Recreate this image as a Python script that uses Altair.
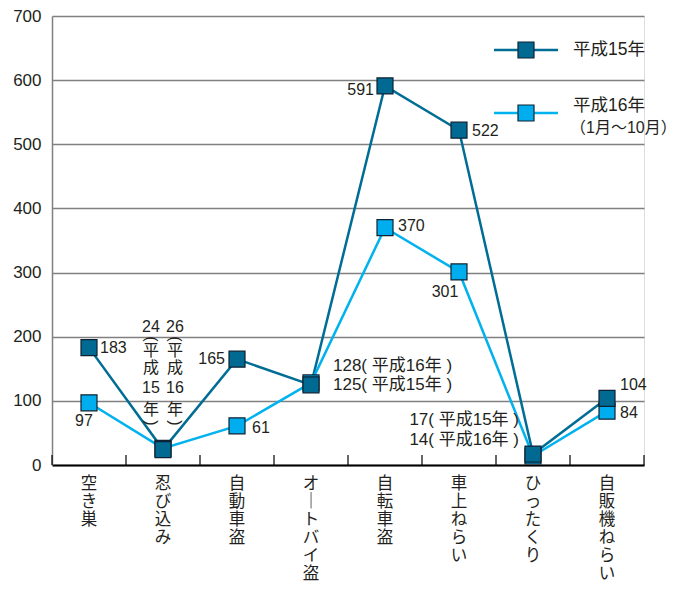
import altair as alt
import pandas as pd

# ---------------- data ----------------
categories = ["空き巣", "忍び込み", "自動車盗", "オートバイ盗",
              "自転車盗", "車上ねらい", "ひったくり", "自販機ねらい"]
series_names = ["平成15年", "平成16年"]
legend_line2 = "（1月～10月）"
h15 = [183, 24, 165, 125, 591, 522, 17, 104]
h16 = [97, 26, 61, 128, 370, 301, 14, 84]
y_ticks = [0, 100, 200, 300, 400, 500, 600, 700]

# ---------------- style ----------------
FONT = "Liberation Sans, Noto Sans CJK JP"
DARK = "#006a93"
DARK_LINE = "#006d95"
LIGHT = "#00aeef"
LIGHT_LINE = "#00b2ee"
MARK_STROKE = "#0f2233"
TEXT_COLOR = "#231f20"
GRID = "#808080"
W, H = 592, 449

x_scale = alt.Scale(type="band", domain=categories, paddingInner=0, paddingOuter=0)
x_axis = alt.Axis(labels=False, ticks=False, title=None, grid=False,
                  domainColor="#000000", domainWidth=1.8)
y_scale = alt.Scale(domain=[0, 700], nice=False)
y_axis = alt.Axis(values=y_ticks, title=None, ticks=False, labelPadding=11,
                  labelFontSize=17, labelColor=TEXT_COLOR, labelFont=FONT,
                  domainColor=GRID, domainWidth=1.5, grid=True,
                  gridColor=GRID, gridWidth=1.5)


def X(**kw):
    return alt.X("cat:N", scale=x_scale, axis=x_axis, **kw)


def Y():
    return alt.Y("value:Q", scale=y_scale, axis=y_axis)


df15 = pd.DataFrame({"cat": categories, "value": h15})
df16 = pd.DataFrame({"cat": categories, "value": h16})

layers = []

# lines
layers.append(alt.Chart(df15).mark_line(color=DARK_LINE, strokeWidth=2.5).encode(x=X(), y=Y()))
layers.append(alt.Chart(df16).mark_line(color=LIGHT_LINE, strokeWidth=2.5).encode(x=X(), y=Y()))

# points (light first, dark on top)
layers.append(alt.Chart(df16).mark_point(shape="square", filled=True, size=256, fill=LIGHT,
                                         stroke=MARK_STROKE, strokeWidth=1.2, opacity=1)
              .encode(x=X(), y=Y()))
layers.append(alt.Chart(df15).mark_point(shape="square", filled=True, size=256, fill=DARK,
                                         stroke=MARK_STROKE, strokeWidth=1.2, opacity=1)
              .encode(x=X(), y=Y()))

# x-axis ticks at band boundaries (pointing up into plot)
cat_df = pd.DataFrame({"cat": categories})
layers.append(alt.Chart(cat_df).mark_rule(color="#000000", strokeWidth=1.2)
              .encode(x=X(bandPosition=0), y=alt.value(H - 10), y2=alt.value(H)))
layers.append(alt.Chart(pd.DataFrame({"cat": categories[-1:]})).mark_rule(color="#000000", strokeWidth=1.2)
              .encode(x=X(bandPosition=1), y=alt.value(H - 10), y2=alt.value(H)))

# category labels, written vertically
vert_df = pd.DataFrame({"cat": categories,
                        "vlabel": ["\n".join(c.replace("ー", "｜")) for c in categories]})
layers.append(alt.Chart(vert_df).mark_text(lineBreak="\n", lineHeight=18, fontSize=16.5, font=FONT,
                                           color=TEXT_COLOR, baseline="top", align="center")
              .encode(x=X(), y=alt.value(H + 11), text="vlabel:N"))

# value annotations: (series index, category index, style key, dx, dy, align)
values = [h15, h16]
ann = [
    (0, 0, "num", 11, 0, "left"),
    (1, 0, "num", -5, 18, "center"),
    (0, 2, "num", -12, 0, "right"),
    (1, 2, "num", 15, 2, "left"),
    (1, 3, "named", 22, -17, "left"),
    (0, 3, "named", 22, 0, "left"),
    (0, 4, "num", -11, 4, "right"),
    (1, 4, "num", 13, -2, "left"),
    (0, 5, "num", 13, 1, "left"),
    (1, 5, "num", -14, 20, "center"),
    (0, 6, "named", -14, -34, "right"),
    (1, 6, "named", -14, -16, "right"),
    (0, 7, "num", 13, -13, "left"),
    (1, 7, "num", 13, 2, "left"),
]
for s, ci, kind, dx, dy, align in ann:
    v = values[s][ci]
    txt = str(v) if kind == "num" else f"{v}( {series_names[s]} )"
    fs = 16 if kind == "num" else 17
    mk = alt.Chart(pd.DataFrame({"cat": [categories[ci]], "value": [v], "t": [txt]})).mark_text(
        fontSize=fs, font=FONT, color=TEXT_COLOR, dx=dx, dy=dy, align=align, baseline="middle")
    layers.append(mk.encode(x=X(), y=Y(), text="t:N"))

# vertical annotations at 忍び込み: value, (, 平, 成, year, 年, ) stacked
year_num = ["15", "16"]
vert_rows_y = [311, 323, 335, 352, 372, 394, 407]   # stacking offsets (plot pixels)
for s, dx in [(0, -12), (1, 12)]:
    v = values[s][1]
    parts = [str(v), "(", "平", "成", year_num[s], "年", ")"]
    for part, py in zip(parts, vert_rows_y):
        if part in "()":
            # rotated 90°: offsets apply in the rotated frame
            mk = alt.Chart(pd.DataFrame({"cat": [categories[1]], "t": [part]})).mark_text(
                fontSize=16, font=FONT, color=TEXT_COLOR, dy=-dx,
                align="center", baseline="middle", angle=90)
        else:
            mk = alt.Chart(pd.DataFrame({"cat": [categories[1]], "t": [part]})).mark_text(
                fontSize=16, font=FONT, color=TEXT_COLOR, dx=dx,
                align="center", baseline="middle")
        layers.append(mk.encode(x=X(), y=alt.value(py), text="t:N"))

# legend (drawn inside the plot, top right)
leg = [
    (series_names[0], DARK_LINE, DARK, 34),
    (series_names[1], LIGHT_LINE, LIGHT, 97),
]
for name, lc, fc, ly in leg:
    d = pd.DataFrame({"t": [name]})
    layers.append(alt.Chart(d).mark_rule(color=lc, strokeWidth=2.5)
                  .encode(x=alt.value(442), x2=alt.value(506), y=alt.value(ly)))
    layers.append(alt.Chart(d).mark_point(shape="square", filled=True, size=256, fill=fc,
                                          stroke=MARK_STROKE, strokeWidth=1.2, opacity=1)
                  .encode(x=alt.value(474), y=alt.value(ly)))
layers.append(alt.Chart(pd.DataFrame({"t": [series_names[0]]})).mark_text(
    fontSize=17.5, font=FONT, color=TEXT_COLOR, align="left", baseline="middle")
    .encode(x=alt.value(521), y=alt.value(34), text="t:N"))
layers.append(alt.Chart(pd.DataFrame({"t": [series_names[1]]})).mark_text(
    fontSize=17.5, font=FONT, color=TEXT_COLOR, align="left", baseline="middle")
    .encode(x=alt.value(521), y=alt.value(90), text="t:N"))
layers.append(alt.Chart(pd.DataFrame({"t": [legend_line2]})).mark_text(
    fontSize=16, font=FONT, color=TEXT_COLOR, align="left", baseline="middle")
    .encode(x=alt.value(518), y=alt.value(112), text="t:N"))

chart = alt.layer(*layers).properties(
    width=W, height=H,
    autosize=alt.AutoSizeParams(type="none"),
    padding={"left": 44, "top": 8, "right": 38, "bottom": 116},
).configure_view(strokeWidth=0).configure(background="white")

chart.save("out.html", embed_options={"renderer": "svg", "actions": False})
